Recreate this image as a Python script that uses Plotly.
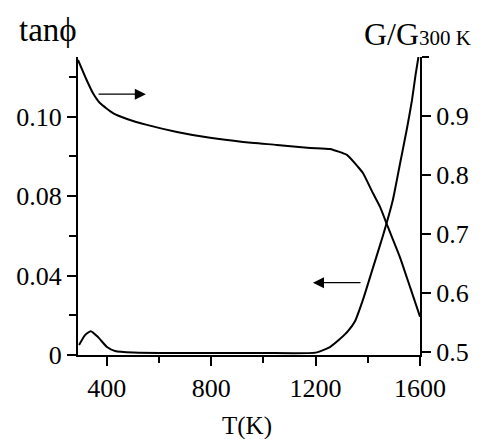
import plotly.graph_objects as go

# --- data ---
T_G = [290, 323, 347, 374, 424, 478, 554, 669, 796, 922, 1052, 1179, 1255, 1320,
       1362, 1382, 1420, 1447, 1477, 1523, 1562, 1600]
G_ratio = [0.995, 0.961, 0.939, 0.922, 0.905, 0.895, 0.885, 0.873, 0.863, 0.856,
           0.851, 0.846, 0.844, 0.834, 0.814, 0.803, 0.769, 0.746, 0.712, 0.661,
           0.610, 0.560]

T_tan = [294, 317, 339, 367, 401, 432, 501, 600, 800, 1000, 1200, 1255, 1293, 1324,
         1351, 1382, 1420, 1458, 1496, 1523, 1550, 1569, 1583, 1594]
tan_phi = [0.005, 0.010, 0.012, 0.009, 0.004, 0.002, 0.0012, 0.001, 0.001, 0.001,
           0.0012, 0.004, 0.008, 0.012, 0.017, 0.028, 0.044, 0.060, 0.078, 0.096,
           0.114, 0.128, 0.141, 0.150]

x_ticks = [400, 800, 1200, 1600]
x_minor = [600, 1000, 1400]
tan_ticks = [0, 0.04, 0.08, 0.12]
tan_labels = ["0", "0.04", "0.08", "0.10"]
tan_minor = [0.02, 0.06, 0.10, 0.14]
g_ticks = [0.5, 0.6, 0.7, 0.8, 0.9]
g_labels = ["0.5", "0.6", "0.7", "0.8", "0.9"]
g_minor = [1.0]

FONT = "Liberation Serif, Times New Roman, serif"

fig = go.Figure()
fig.add_trace(go.Scatter(x=T_G, y=G_ratio, mode="lines", yaxis="y2",
                         line=dict(color="black", width=2, shape="spline", smoothing=0.5),
                         showlegend=False))
fig.add_trace(go.Scatter(x=T_tan, y=tan_phi, mode="lines", yaxis="y",
                         line=dict(color="black", width=2, shape="spline", smoothing=0.5),
                         showlegend=False))

axis_common = dict(showline=True, linecolor="black", linewidth=2, showgrid=False,
                   zeroline=False, ticks="outside", tickcolor="black", tickwidth=2,
                   ticklen=9, tickfont=dict(family=FONT, size=26, color="black"))

fig.update_layout(
    width=483, height=439,
    margin=dict(l=78, r=63, t=57, b=84),
    paper_bgcolor="white", plot_bgcolor="white",
    xaxis=dict(range=[290, 1600], tickvals=x_ticks,
               minor=dict(tickvals=x_minor, ticks="outside", ticklen=6,
                          tickcolor="black", tickwidth=2),
               **axis_common),
    yaxis=dict(range=[0, 0.15], tickvals=tan_ticks, ticktext=tan_labels,
               minor=dict(tickvals=tan_minor, ticks="outside", ticklen=7,
                          tickcolor="black", tickwidth=2),
               **axis_common),
    yaxis2=dict(range=[0.495, 1.0], overlaying="y", side="right",
                tickvals=g_ticks, ticktext=g_labels,
                minor=dict(tickvals=g_minor, ticks="outside", ticklen=7,
                           tickcolor="black", tickwidth=2),
                **axis_common),
)

fig.add_annotation(text="tanϕ", xref="paper", yref="paper", x=-0.088, y=1.09,
                   xanchor="center", yanchor="middle", showarrow=False,
                   font=dict(family=FONT, size=33, color="black"))
fig.add_annotation(text="G/G<span style='font-size:21px'>300 K</span>",
                   xref="paper", yref="paper", x=0.994, y=1.077,
                   xanchor="center", yanchor="middle", showarrow=False,
                   font=dict(family=FONT, size=32, color="black"))
fig.add_annotation(text="T(K)", xref="paper", yref="paper", x=0.494, y=-0.238,
                   xanchor="center", yanchor="middle", showarrow=False,
                   font=dict(family=FONT, size=25, color="black"))

# arrows pointing to the relevant axis
fig.add_annotation(x=550, y=0.937, ax=363, ay=0.937, xref="x", yref="y2",
                   axref="x", ayref="y2", text="", showarrow=True,
                   arrowhead=2, arrowsize=1.7, arrowwidth=1.3, arrowcolor="black")
fig.add_annotation(x=1190, y=0.0364, ax=1378, ay=0.0364, xref="x", yref="y",
                   axref="x", ayref="y", text="", showarrow=True,
                   arrowhead=2, arrowsize=1.7, arrowwidth=1.3, arrowcolor="black")

fig.write_html("out.html", config={"displayModeBar": False},
               post_script="document.body.style.margin='0';")
